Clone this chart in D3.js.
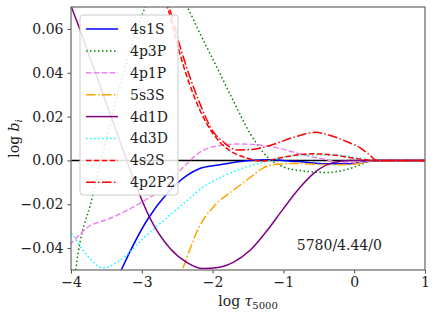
<!DOCTYPE html>
<html>
<head>
<meta charset="utf-8">
<script src="https://cdn.jsdelivr.net/npm/d3@7"></script>
<style>
  body { margin: 0; background: #fff; }
</style>
</head>
<body>
<svg width="436" height="316"></svg>
<script>
// departure coefficients, log b_i vs log tau_5000, model 5780/4.44/0
const names = ["4s1S", "4p3P", "4p1P", "5s3S", "4d1D", "4d3D", "4s2S", "4p2P2"];

const b4s1S = [[-3.4, -0.058], [-3.28, -0.0493], [-2.91, -0.0265], [-2.64, -0.015], [-2.36, -0.0068],
  [-2.18, -0.0037], [-1.94, -0.0022], [-1.71, -0.0009], [-1.47, 0], [-1.2, 0.0003], [-0.8, -0.0005],
  [-0.4, -0.0015], [-0.1, -0.0015], [0.2, -0.0005], [0.35, 0], [1.0, 0]];
const b4p3P = [[-4.0, -0.07], [-3.93, -0.0493], [-3.7, -0.0169], [-3.5, 0.01], [-3.3, 0.035],
  [-3.1, 0.057], [-2.95, 0.07], [-2.65, 0.082], [-2.36, 0.07], [-2.18, 0.058],
  [-1.94, 0.0425], [-1.71, 0.0274], [-1.47, 0.0123], [-1.22, 0.0014], [-1.0, -0.003], [-0.77, -0.0046],
  [-0.38, -0.0055], [-0.06, -0.0037], [0.18, -0.0009], [0.3, 0], [1.0, 0]];
const b4p1P = [[-4.1, -0.041], [-4.0, -0.0379], [-3.77, -0.0306], [-3.45, -0.0265], [-3.03, -0.0196],
  [-2.66, -0.0115], [-2.46, -0.0046], [-2.14, 0.0045], [-1.9, 0.0068], [-1.65, 0.0075], [-1.4, 0.0072],
  [-1.05, 0.0055], [-0.77, 0.003], [-0.6, 0.0017], [-0.4, 0.0004], [-0.2, -0.001], [0.1, -0.001],
  [0.3, 0], [1.0, 0]];
const b5s3S = [[-2.5, -0.056], [-2.42, -0.0493], [-2.2, -0.031], [-1.97, -0.0205], [-1.71, -0.0137],
  [-1.47, -0.0078], [-1.29, -0.0035], [-1.1, -0.0018], [-0.81, -0.0014], [-0.5, -0.0018],
  [-0.2, -0.002], [0.05, -0.0015], [0.3, 0], [1.0, 0]];
const b4d1D = [[-4.05, 0.075], [-4.0, 0.0705], [-3.9, 0.062], [-3.7, 0.044], [-3.5, 0.026],
  [-3.3, 0.008], [-3.1, -0.01], [-2.89, -0.026], [-2.6, -0.0402], [-2.36, -0.0466], [-2.14, -0.0493],
  [-1.9, -0.0487], [-1.71, -0.0465], [-1.47, -0.041], [-1.23, -0.032], [-1.0, -0.022],
  [-0.77, -0.0125], [-0.53, -0.0048], [-0.3, -0.001], [-0.06, 0], [1.0, 0]];
const b4d3D = [[-4.1, -0.029], [-4.0, -0.033], [-3.77, -0.0434], [-3.55, -0.049], [-3.27, -0.0447],
  [-2.98, -0.0356], [-2.64, -0.026], [-2.36, -0.0183], [-2.14, -0.0123], [-1.9, -0.008],
  [-1.66, -0.0046], [-1.19, 0], [-0.81, 0.0023], [-0.5, 0.0025], [-0.25, 0.0024], [0.0, 0.0014],
  [0.3, 0], [1.0, 0]];
const b4s2S = [[-2.7, 0.075], [-2.64, 0.07], [-2.5, 0.053], [-2.36, 0.038], [-2.18, 0.023],
  [-1.99, 0.012], [-1.8, 0.0055], [-1.51, 0.001], [-1.3, -0.0003], [-1.0, 0.0015], [-0.6, 0.003],
  [-0.3, 0.0025], [0.0, 0.001], [0.3, 0], [1.0, 0]];
const b4p2P2 = [[-2.72, 0.075], [-2.62, 0.07], [-2.46, 0.052], [-2.32, 0.038], [-2.18, 0.026],
  [-1.99, 0.013], [-1.85, 0.0085], [-1.66, 0.0048], [-1.45, 0.005], [-1.19, 0.0068], [-0.86, 0.0105],
  [-0.55, 0.0128], [-0.3, 0.011], [-0.1, 0.0085], [0.08, 0.0058], [0.2, 0.003], [0.32, 0], [1.0, 0]];

const series = [b4s1S, b4p3P, b4p1P, b5s3S, b4d1D, b4d3D, b4s2S, b4p2P2];
const colors = ["blue", "green", "violet", "orange", "purple", "cyan", "red", "red"];
const dashes = [null, "1.5,2.5", "5.5,2.4", "9.6,2.4,1.5,2.4", null, "1.5,2.5", "5.5,2.4", "9.6,2.4,1.5,2.4"];

const xTicks = [-4, -3, -2, -1, 0, 1];
const yTicks = [-0.04, -0.02, 0.00, 0.02, 0.04, 0.06];

const serif = "'DejaVu Serif', serif";
const fs = 14;

let svg = d3.select("svg").attr("font-family", serif),
    width = +svg.attr("width"),
    height = +svg.attr("height"),
    margin = {top: 7, right: 11, bottom: 46, left: 71},
    w = width - margin.left - margin.right,
    h = height - margin.top - margin.bottom,
    g = svg.append("g").attr("transform", "translate(" + margin.left + "," + margin.top + ")");

let x = d3.scaleLinear().domain([-4, 1]).range([0, w]);
let y = d3.scaleLinear().domain([-0.05, 0.07]).range([h, 0]);

svg.append("defs").append("clipPath").attr("id", "clip")
    .append("rect").attr("width", w).attr("height", h);

let plot = g.append("g").attr("clip-path", "url(#clip)");

// nul lijn
plot.append("line")
    .attr("x1", 0).attr("x2", w)
    .attr("y1", y(0)).attr("y2", y(0))
    .attr("stroke", "#000").attr("stroke-width", 1.5);

let line = d3.line()
    .x(function (d) { return x(d[0]); })
    .y(function (d) { return y(d[1]); })
    .curve(d3.curveMonotoneX);

series.forEach(function (s, i) {
    plot.append("path")
        .datum(s)
        .attr("fill", "none")
        .attr("stroke", colors[i])
        .attr("stroke-width", 1.5)
        .attr("stroke-dasharray", dashes[i])
        .attr("d", line);
});

// assen
let xAxis = g.append("g").attr("transform", "translate(0," + h + ")")
    .call(d3.axisBottom(x).tickValues(xTicks).tickSize(3.5).tickPadding(4)
        .tickFormat(function (d) { return d < 0 ? "\u2212" + Math.abs(d) : d; }));
let yAxis = g.append("g")
    .call(d3.axisLeft(y).tickValues(yTicks).tickSize(3.5).tickPadding(4)
        .tickFormat(function (d) { let s = d3.format(".2f")(Math.abs(d)); return d < -1e-9 ? "\u2212" + s : s; }));

[xAxis, yAxis].forEach(function (a) {
    a.attr("font-family", serif).attr("font-size", fs);
    a.select(".domain").remove();
    a.selectAll("line").attr("stroke", "#333").attr("stroke-width", 0.9);
    a.selectAll("text").attr("fill", "#222");
});

g.append("rect")
    .attr("width", w).attr("height", h)
    .attr("fill", "none").attr("stroke", "#666").attr("stroke-width", 1.2);

// legenda
let leg = g.append("g").attr("transform", "translate(9,8)");
leg.append("rect")
    .attr("width", 98).attr("height", 180).attr("rx", 3)
    .attr("fill", "#fff").attr("fill-opacity", 0.85)
    .attr("stroke", "#ccc").attr("stroke-width", 1);

let item = leg.selectAll("g.item").data(names).enter().append("g")
    .attr("class", "item")
    .attr("transform", function (d, i) { return "translate(0," + (14 + i * 21.9) + ")"; });

item.append("line")
    .attr("x1", 6).attr("x2", 38)
    .attr("stroke", function (d, i) { return colors[i]; })
    .attr("stroke-width", 1.5)
    .attr("stroke-dasharray", function (d, i) { return dashes[i]; });

item.append("text")
    .attr("x", 50).attr("dy", "0.35em")
    .attr("font-size", fs).attr("fill", "#222")
    .text(function (d) { return d; });

// annotatie
g.append("text")
    .attr("x", x(-0.21)).attr("y", y(-0.0407))
    .attr("text-anchor", "middle")
    .attr("font-size", fs).attr("fill", "#222")
    .text("5780/4.44/0");

// as titels
let xl = svg.append("text")
    .attr("x", margin.left + w / 2).attr("y", 306)
    .attr("text-anchor", "middle").attr("font-size", fs).attr("fill", "#222");
xl.append("tspan").text("log ");
xl.append("tspan").attr("font-style", "italic").text("\u03c4");
xl.append("tspan").attr("font-size", 10).attr("dy", 3).text("5000");

let yl = svg.append("text")
    .attr("transform", "translate(19," + (margin.top + y(0.01)) + ")rotate(-90)")
    .attr("text-anchor", "middle").attr("font-size", fs).attr("fill", "#222");
yl.append("tspan").text("log ");
yl.append("tspan").attr("font-style", "italic").text("b");
yl.append("tspan").attr("font-style", "italic").attr("font-size", 10).attr("dy", 3).text("i");
</script>
</body>
</html>
